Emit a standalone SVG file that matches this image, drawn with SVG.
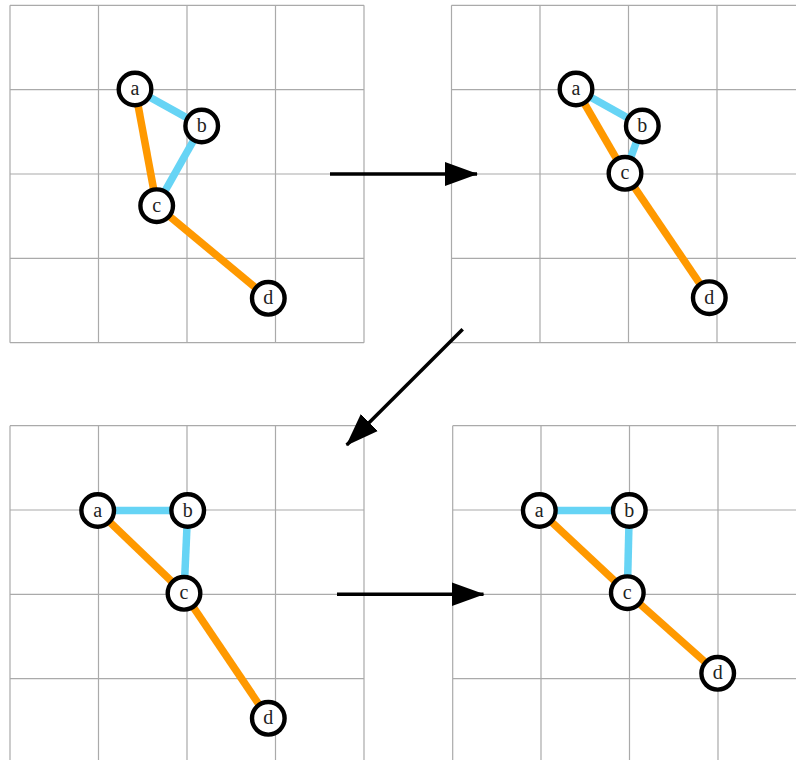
<svg xmlns="http://www.w3.org/2000/svg" width="796" height="760" viewBox="0 0 796 760">
<defs>
<style>
.grid{stroke:#aaaaaa;stroke-width:1.2;fill:none}
.blue{stroke:#66d4f5;stroke-width:7.5;stroke-linecap:butt;fill:none}
.orange{stroke:#ff9900;stroke-width:7.5;stroke-linecap:butt;fill:none}
.node circle{fill:#ffffff;stroke:#000000;stroke-width:4.4}
.node text{font-family:"Liberation Serif","DejaVu Serif",serif;font-size:20px;fill:#222222;text-anchor:middle;dominant-baseline:central}
.arrow{stroke:#000000;stroke-width:3.5;fill:none}
</style>
<marker id="ah" markerUnits="userSpaceOnUse" markerWidth="34" markerHeight="26" viewBox="0 0 34 26" refX="32" refY="13" orient="auto">
<path d="M0,1 L33,13 L0,25 Z" fill="#000000"/>
</marker>
</defs>
<g id="grids">
<path class="grid" d="M10,5.3H364M10,89.7H364M10,174H364M10,258.3H364M10,342.7H364M10,5.3V342.7M98.5,5.3V342.7M187,5.3V342.7M275.5,5.3V342.7M364,5.3V342.7"/>
<path class="grid" d="M451.5,5.3H796M451.5,89.7H796M451.5,174H796M451.5,258.3H796M451.5,342.7H796M451.5,5.3V342.7M540,5.3V342.7M628.5,5.3V342.7M717,5.3V342.7"/>
<path class="grid" d="M10,425.7H364M10,510H364M10,594.3H364M10,678.7H364M10,425.7V760M98.5,425.7V760M187,425.7V760M275.5,425.7V760M364,425.7V760"/>
<path class="grid" d="M452.7,425.7H796M452.7,510H796M452.7,594.3H796M452.7,678.7H796M452.7,425.7V760M541,425.7V760M629.5,425.7V760M718,425.7V760"/>
</g>
<g id="connectors">
<line class="arrow" x1="330" y1="174" x2="477" y2="174" marker-end="url(#ah)"/>
<line class="arrow" x1="462.7" y1="329.3" x2="346.7" y2="445" marker-end="url(#ah)"/>
<line class="arrow" x1="337" y1="594.3" x2="483.5" y2="594.3" marker-end="url(#ah)"/>
<line class="blue" x1="135" y1="89" x2="201.7" y2="126"/>
<line class="blue" x1="201.7" y1="126" x2="156.7" y2="205.7"/>
<line class="orange" x1="135" y1="89" x2="156.7" y2="205.7"/>
<line class="orange" x1="156.7" y1="205.7" x2="268.3" y2="298.3"/>
<line class="blue" x1="576" y1="89" x2="642.3" y2="126"/>
<line class="blue" x1="642.3" y1="126" x2="625" y2="173.3"/>
<line class="orange" x1="576" y1="89" x2="625" y2="173.3"/>
<line class="orange" x1="625" y1="173.3" x2="709.3" y2="297.7"/>
<line class="blue" x1="97.7" y1="510.5" x2="187.7" y2="510.5"/>
<line class="blue" x1="187.7" y1="510.5" x2="184" y2="593.3"/>
<line class="orange" x1="97.7" y1="510.5" x2="184" y2="593.3"/>
<line class="orange" x1="184" y1="593.3" x2="268.3" y2="718.3"/>
<line class="blue" x1="539.3" y1="510.5" x2="629.3" y2="510.5"/>
<line class="blue" x1="629.3" y1="510.5" x2="627.3" y2="592.7"/>
<line class="orange" x1="539.3" y1="510.5" x2="627.3" y2="592.7"/>
<line class="orange" x1="627.3" y1="592.7" x2="717.7" y2="673.3"/>
</g>
<g id="tl-a" class="node"><circle cx="135" cy="89" r="16.3"/><text x="135" y="88">a</text></g>
<g id="tl-b" class="node"><circle cx="201.7" cy="126" r="16.3"/><text x="201.7" y="125">b</text></g>
<g id="tl-c" class="node"><circle cx="156.7" cy="205.7" r="16.3"/><text x="156.7" y="204.7">c</text></g>
<g id="tl-d" class="node"><circle cx="268.3" cy="298.3" r="16.3"/><text x="268.3" y="297.3">d</text></g>
<g id="tr-a" class="node"><circle cx="576" cy="89" r="16.3"/><text x="576" y="88">a</text></g>
<g id="tr-b" class="node"><circle cx="642.3" cy="126" r="16.3"/><text x="642.3" y="125">b</text></g>
<g id="tr-c" class="node"><circle cx="625" cy="173.3" r="16.3"/><text x="625" y="172.3">c</text></g>
<g id="tr-d" class="node"><circle cx="709.3" cy="297.7" r="16.3"/><text x="709.3" y="296.7">d</text></g>
<g id="bl-a" class="node"><circle cx="97.7" cy="510.5" r="16.3"/><text x="97.7" y="509.5">a</text></g>
<g id="bl-b" class="node"><circle cx="187.7" cy="510.5" r="16.3"/><text x="187.7" y="509.5">b</text></g>
<g id="bl-c" class="node"><circle cx="184" cy="593.3" r="16.3"/><text x="184" y="592.3">c</text></g>
<g id="bl-d" class="node"><circle cx="268.3" cy="718.3" r="16.3"/><text x="268.3" y="717.3">d</text></g>
<g id="br-a" class="node"><circle cx="539.3" cy="510.5" r="16.3"/><text x="539.3" y="509.5">a</text></g>
<g id="br-b" class="node"><circle cx="629.3" cy="510.5" r="16.3"/><text x="629.3" y="509.5">b</text></g>
<g id="br-c" class="node"><circle cx="627.3" cy="592.7" r="16.3"/><text x="627.3" y="591.7">c</text></g>
<g id="br-d" class="node"><circle cx="717.7" cy="673.3" r="16.3"/><text x="717.7" y="672.3">d</text></g>
</svg>
